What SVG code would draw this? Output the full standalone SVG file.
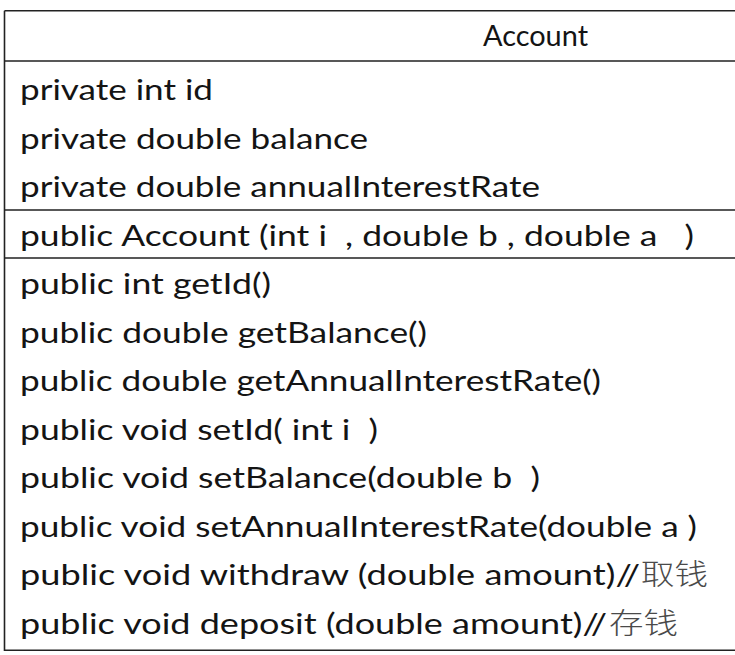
<svg xmlns="http://www.w3.org/2000/svg" width="735" height="655" viewBox="0 0 735 655">
  <style>
    text { white-space: pre; }
    .t { font-family: Lato, "Open Sans", "Liberation Sans", sans-serif; font-size: 28px; fill: #141414; }
    .cjk { font-family: "Noto Sans CJK SC", "Noto Sans CJK JP", sans-serif; font-size: 29px; fill: #4a4a4a; font-weight: 300; }
    .ln { stroke: #222; stroke-width: 1.6; fill: none; }
  </style>
  <rect width="735" height="655" fill="#ffffff"/>
  <g id="class-account">
    <g id="frame">
      <path class="ln" d="M4.5 10.8 H740 M4.5 10.8 V650.2 H740"/>
      <path class="ln" d="M4.5 61 H740 M4.5 210 H740 M4.5 258 H740"/>
    </g>
    <g id="name">
      <text class="t" x="483" y="46" textLength="105" lengthAdjust="spacingAndGlyphs">Account</text>
    </g>
    <g id="attributes">
      <text class="t" x="20" y="100" textLength="193" lengthAdjust="spacingAndGlyphs">private int id</text>
      <text class="t" x="20" y="148.5" textLength="348" lengthAdjust="spacingAndGlyphs">private double balance</text>
      <text class="t" x="20" y="197" textLength="520" lengthAdjust="spacingAndGlyphs">private double annualInterestRate</text>
    </g>
    <g id="constructor">
      <text class="t" x="20" y="245.5" textLength="674" lengthAdjust="spacingAndGlyphs">public Account (int i  , double b , double a   )</text>
    </g>
    <g id="methods">
      <text class="t" x="20" y="294" textLength="251" lengthAdjust="spacingAndGlyphs">public int getId()</text>
      <text class="t" x="20" y="342.5" textLength="407" lengthAdjust="spacingAndGlyphs">public double getBalance()</text>
      <text class="t" x="20" y="391" textLength="581" lengthAdjust="spacingAndGlyphs">public double getAnnualInterestRate()</text>
      <text class="t" x="20" y="439.5" textLength="358" lengthAdjust="spacingAndGlyphs">public void setId( int i  )</text>
      <text class="t" x="20" y="488" textLength="520" lengthAdjust="spacingAndGlyphs">public void setBalance(double b  )</text>
      <text class="t" x="20" y="536.5" textLength="677" lengthAdjust="spacingAndGlyphs">public void setAnnualInterestRate(double a )</text>
      <text class="t" x="20" y="585" textLength="620" lengthAdjust="spacingAndGlyphs">public void withdraw (double amount)//</text>
      <text class="cjk" x="641" y="585" textLength="67" lengthAdjust="spacingAndGlyphs">取钱</text>
      <text class="t" x="20" y="633.5" textLength="587" lengthAdjust="spacingAndGlyphs">public void deposit (double amount)//</text>
      <text class="cjk" x="609" y="633.5" textLength="69" lengthAdjust="spacingAndGlyphs">存钱</text>
    </g>
  </g>
</svg>
